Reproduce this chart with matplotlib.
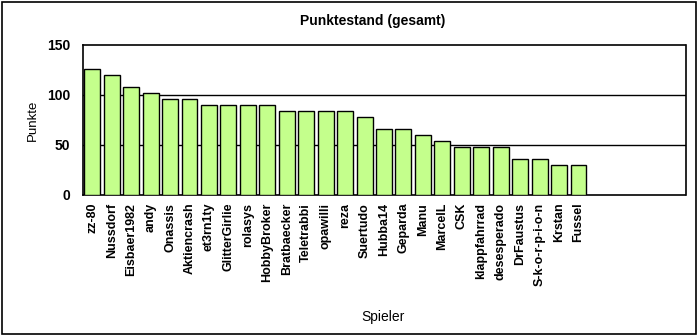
import matplotlib
matplotlib.use("Agg")
import matplotlib.pyplot as plt
from matplotlib.patches import Rectangle

players = ["zz-80", "Nussdorf", "Eisbaer1982", "andy", "Onassis", "Aktiencrash",
           "et3rn1ty", "GlitterGirlie", "rolasys", "HobbyBroker", "Bratbaecker",
           "Teletrabbi", "opawilli", "reza", "Suertudo", "Hubba14", "Geparda",
           "Manu", "MarcelL", "CSK", "klappfahrrad", "desesperado", "DrFaustus",
           "S-k-o-r-p-i-o-n", "Krstan", "Fussel"]
points = [126, 120, 108, 102, 96, 96, 90, 90, 90, 90, 84, 84, 84, 84, 78,
          66, 66, 60, 54, 48, 48, 48, 36, 36, 30, 30]
n_slots = 31
yticks = [0, 50, 100, 150]

plt.rcParams['font.family'] = ['Liberation Sans', 'DejaVu Sans']

W, H = 699, 336
fig = plt.figure(figsize=(W / 100, H / 100), dpi=100)
fig.patch.set_facecolor('white')

# plot area in pixels
left, right, top, bottom = 82.5, 685.5, 45, 194.5
ax = fig.add_axes([left / W, 1 - bottom / H, (right - left) / W, (bottom - top) / H])

x = [i + 0.5 for i in range(len(players))]
ax.bar(x, points, width=0.82, color='#C4FF8C', edgecolor='black', linewidth=1.0, zorder=3)

ax.set_xlim(0, n_slots)
ax.set_ylim(0, 150)
ax.set_yticks(yticks)
ax.set_yticklabels([str(v) for v in yticks], fontsize=10, fontweight='bold')
ax.tick_params(axis='y', length=0, pad=9)
ax.set_xticks(x)
ax.set_xticklabels(players, rotation=90, fontsize=9, fontweight='bold', va='top', ha='center')
ax.tick_params(axis='x', length=0, pad=6)

for v in [50, 100]:
    ax.axhline(v, color='black', linewidth=1.0, zorder=1)
for s in ax.spines.values():
    s.set_linewidth(1.2)
    s.set_color('black')

fig.text(373 / W, 1 - 21 / H, "Punktestand (gesamt)", fontsize=10, fontweight='bold',
         ha='center', va='center')
fig.text(33 / W, 1 - 120 / H, "Punkte", fontsize=9.5, rotation=90, ha='center', va='center')
fig.text(383 / W, 1 - 317 / H, "Spieler", fontsize=10, ha='center', va='center')

fig.patches.append(Rectangle((1.5 / W, 1 - 334 / H), (696 - 1.5) / W, (334 - 1.5) / H,
                             transform=fig.transFigure, fill=False, edgecolor='black',
                             linewidth=1.2))

fig.savefig("out.png", dpi=100)
